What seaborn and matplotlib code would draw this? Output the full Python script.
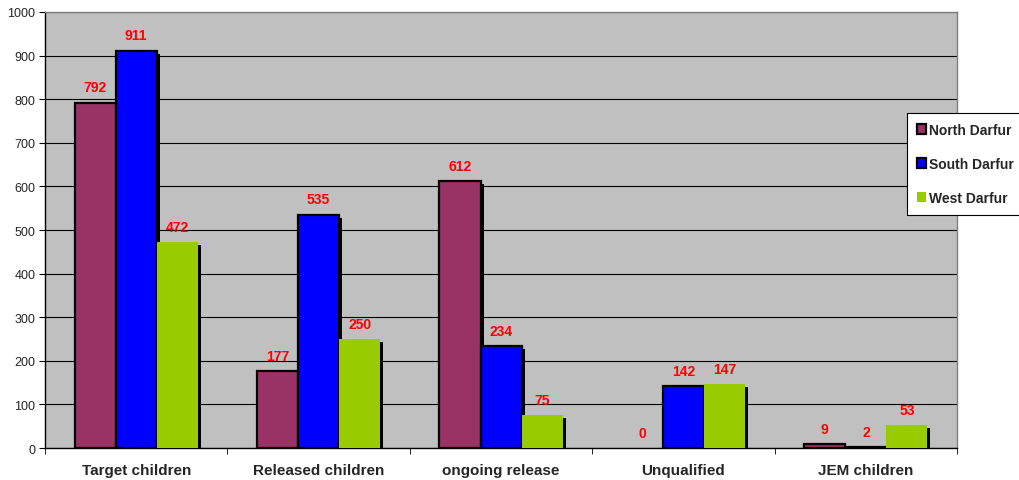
import numpy as np
import pandas as pd
import matplotlib
matplotlib.use("Agg")
import matplotlib.pyplot as plt
import matplotlib.patheffects as pe
from matplotlib.patches import Patch
import seaborn as sns

categories = ["Target children", "Released children", "ongoing release", "Unqualified", "JEM children"]
north_darfur = [792, 177, 612, 0, 9]
south_darfur = [911, 535, 234, 142, 2]
west_darfur = [472, 250, 75, 147, 53]
regions = ["North Darfur", "South Darfur", "West Darfur"]
colors = ["#993366", "#0000FF", "#99CC00"]

df = pd.DataFrame({
    "category": categories * 3,
    "region": [r for r in regions for _ in categories],
    "value": north_darfur + south_darfur + west_darfur,
})

sns.set_style("white")
plt.rcParams["font.family"] = ["Liberation Sans", "DejaVu Sans"]

fig = plt.figure(figsize=(10.19, 4.81), dpi=100)
ax = fig.add_axes([0.0442, 0.0665, 0.8950, 0.9065])
ax.set_facecolor("#C0C0C0")

shadow = [pe.SimplePatchShadow(offset=(2.2, -2.2), shadow_rgbFace="black", alpha=1), pe.Normal()]
sns.barplot(data=df, x="category", y="value", hue="region", palette=colors,
            width=0.675, edgecolor="black", linewidth=1.6, saturation=1,
            legend=False, ax=ax, zorder=3)

for i, cont in enumerate(ax.containers):
    for p in cont:
        p.set_path_effects(shadow)
        if i == 2:
            p.set_linewidth(0)
        if p.get_height() == 0:
            p.set_visible(False)
    ax.bar_label(cont, padding=6, color="red", fontweight="bold", fontsize=10)

ax.set_ylim(0, 1000)
ax.set_xlim(-0.5, 4.5)
ax.set_yticks(range(0, 1001, 100))
ax.yaxis.grid(True, color="black", linewidth=0.8, zorder=0)
ax.set_axisbelow(True)
ax.tick_params(axis="y", labelsize=9, length=4, color="black", direction="out", left=True, pad=3)
ax.tick_params(axis="x", which="major", length=0, labelsize=11, pad=11)
ax.set_xticks(np.arange(-0.5, 5, 1), minor=True)
ax.tick_params(axis="x", which="minor", length=4, color="black", direction="out", bottom=True)
for lbl in ax.get_xticklabels():
    lbl.set_fontweight("bold")
ax.set_xlabel("")
ax.set_ylabel("")
for side in ["left", "bottom"]:
    ax.spines[side].set_color("black")
    ax.spines[side].set_linewidth(1)
for side in ["top", "right"]:
    ax.spines[side].set_color("#808080")
    ax.spines[side].set_linewidth(1)

handles = [
    Patch(facecolor=colors[0], edgecolor="black", linewidth=1.6),
    Patch(facecolor=colors[1], edgecolor="black", linewidth=1.6),
    Patch(facecolor=colors[2], edgecolor="none"),
]
leg = ax.legend(handles, regions, loc="upper left", bbox_to_anchor=(0.890, 0.763),
                bbox_transform=fig.transFigure, frameon=True, fancybox=False,
                framealpha=1, edgecolor="black", prop={"weight": "bold", "size": 10},
                handlelength=0.7, handleheight=0.7, handletextpad=0.2,
                labelspacing=1.45, borderpad=0.7, borderaxespad=0)
leg.get_frame().set_linewidth(0.8)

fig.savefig("out.png", dpi=100)
